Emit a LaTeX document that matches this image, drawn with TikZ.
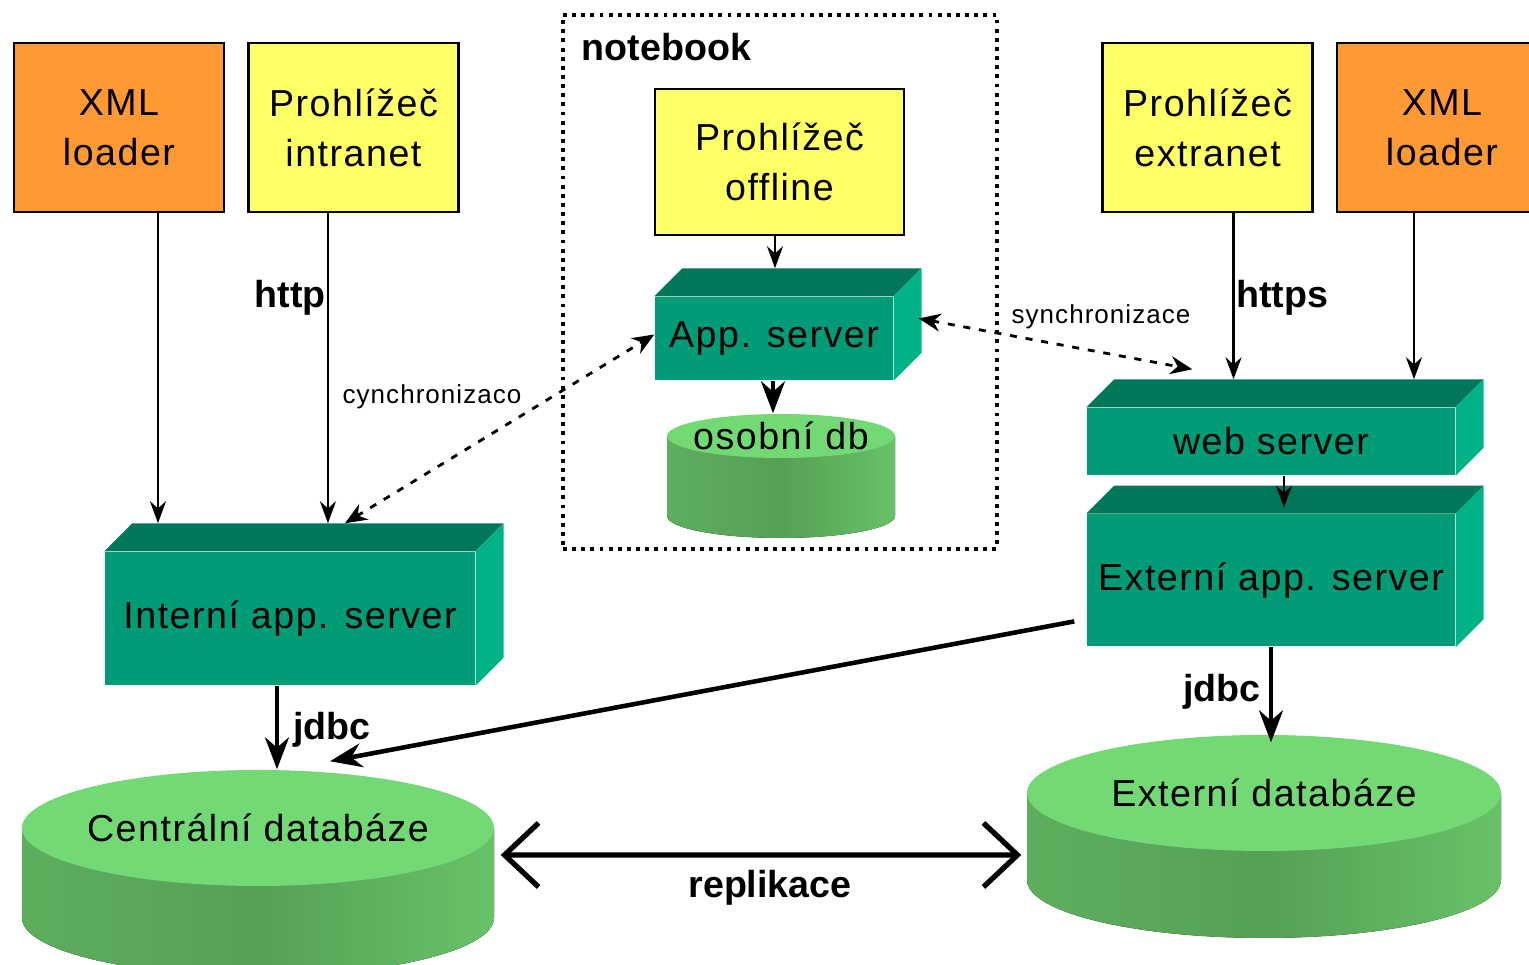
\documentclass[tikz,border=0pt]{standalone}
\usepackage{fontspec}
\setmainfont[LetterSpace=4,BoldFeatures={LetterSpace=0}]{Liberation Sans}
\usetikzlibrary{shapes,arrows,arrows.meta,positioning,calc}
\definecolor{ldOrange}{RGB}{255,153,51}
\definecolor{ldYellow}{RGB}{255,255,102}
\definecolor{srvTop}{RGB}{0,119,90}
\definecolor{srvFront}{RGB}{0,155,119}
\definecolor{srvSide}{RGB}{0,179,134}
\definecolor{dbTop}{RGB}{115,217,117}
\definecolor{dbLeft}{RGB}{94,174,94}
\definecolor{dbMid}{RGB}{86,160,86}
\definecolor{dbRight}{RGB}{104,194,104}

\begin{document}
\begin{tikzpicture}[
    font=\fontsize{10.7}{14.2}\selectfont,
    client/.style={rectangle, draw=black, line width=0.7pt, minimum width=2.1cm, minimum height=1.69cm, align=center, inner sep=0pt},
    loader/.style={client, fill=ldOrange},
    browser/.style={client, fill=ldYellow},
    srvbox/.style={rectangle, fill=srvFront, inner sep=0pt, minimum width=3.68cm, align=center},
    dbtop/.style={ellipse, fill=dbTop, inner sep=0pt},
    dbbody/.style={left color=dbLeft, right color=dbRight, middle color=dbMid},
    link/.style={-{Stealth[length=2.2mm,width=1.6mm]}, line width=0.6pt},
    dblink/.style={-{Stealth[length=3.2mm,width=2.4mm]}, line width=1.3pt},
    sync/.style={{Stealth[length=2.2mm,width=1.8mm]}-{Stealth[length=2.2mm,width=1.8mm]}, line width=0.8pt, dash pattern=on 2pt off 2.5pt},
    repl/.style={{Straight Barb[length=3.4mm,width=6.4mm,line width=1.5pt]}-{Straight Barb[length=3.4mm,width=6.4mm,line width=1.5pt]}, line width=1.5pt},
    proto/.style={font=\fontsize{10.7}{14.2}\selectfont\bfseries},
    synctext/.style={font=\fontsize{7.4}{9}\selectfont}
]
\useasboundingbox (0,0) rectangle (15.29,9.65);
\clip (0,0) rectangle (15.29,9.65);

% Clients
\node[loader] (xmlL) at (1.19,8.375) {XML\\loader};
\node[browser, right=0.22cm of xmlL] (intra) {Prohlížeč\\intranet};
\node[loader] (xmlR) at (14.42,8.375) {XML\\loader};
\node[browser, left=0.22cm of xmlR] (extra) {Prohlížeč\\extranet};

% Notebook
\node[draw, line width=1.1pt, dash pattern=on 1.1pt off 1.5pt, minimum width=4.34cm, minimum height=5.34cm, inner sep=0pt] (nb) at (7.80,6.83) {};
\node[proto, anchor=north west, inner sep=0pt] (nbtitle) at ([shift={(0.2,-0.2)}]nb.north west) {notebook};
\node[browser, minimum width=2.49cm, minimum height=1.46cm] (offline) at (7.795,8.03) {Prohlížeč\\offline};
\node[srvbox, minimum width=2.38cm, minimum height=0.83cm] (appsrv) at (7.74,6.265) {App. server};

% osobni db
\coordinate (odbc) at (7.81,5.29);
\fill[dbbody] ($(odbc)+(-1.14,0)$) -- ++(0,-0.80) arc[start angle=180, end angle=360, x radius=1.14cm, y radius=0.22cm] -- ++(0,0.80) -- cycle;
\node[dbtop, minimum width=2.28cm, minimum height=0.44cm, label=center:osobní db] (odb) at (odbc) {};

% Servers
\node[srvbox, minimum width=3.70cm, minimum height=1.33cm] (intsrv) at (2.90,3.465) {Interní app. server};
\node[srvbox, minimum height=0.67cm] (websrv) at (12.71,5.235) {web server};
\node[srvbox, minimum height=1.32cm, below=0.38cm of websrv] (extsrv) {Externí app. server};

\foreach \s in {appsrv,intsrv,websrv,extsrv} {
    \fill[srvTop] (\s.north west) -- ++(0.28,0.28) -- ($(\s.north east)+(0.28,0.28)$) -- (\s.north east) -- cycle;
    \fill[srvSide] (\s.north east) -- ++(0.28,0.28) -- ($(\s.south east)+(0.28,0.28)$) -- (\s.south east) -- cycle;
    \coordinate (\s-top) at ($(\s.north)+(0.28,0.28)$);
}

% Databases
\coordinate (cdbc) at (2.58,1.37);
\fill[dbbody] ($(cdbc)+(-2.36,0)$) -- ++(0,-0.90) arc[start angle=180, end angle=360, x radius=2.36cm, y radius=0.58cm] -- ++(0,0.90) -- cycle;
\node[dbtop, minimum width=4.72cm, minimum height=1.16cm, label=center:Centrální databáze] (cdb) at (cdbc) {};

\coordinate (edbc) at (12.64,1.72);
\fill[dbbody] ($(edbc)+(-2.37,0)$) -- ++(0,-0.87) arc[start angle=180, end angle=360, x radius=2.37cm, y radius=0.58cm] -- ++(0,0.87) -- cycle;
\node[dbtop, minimum width=4.74cm, minimum height=1.16cm, label=center:Externí databáze] (edb) at (edbc) {};

% Labels
\node[proto] (http) at (2.90,6.67) {http};
\node[proto] (https) at (12.82,6.67) {https};
\node[proto] (jdbcL) at (3.32,2.35) {jdbc};
\node[proto] (jdbcR) at (12.22,2.73) {jdbc};
\node[proto] (repltext) at (7.70,0.77) {replikace};
\node[synctext] (syncL) at (4.32,5.68) {cynchronizaco};
\node[synctext] (syncR) at (11.01,6.48) {synchronizace};

% Arrows
\draw[link] ([xshift=0.39cm]xmlL.south) -- ([xshift=0.39cm]xmlL.south |- intsrv-top);
\draw[link] ([xshift=-0.255cm]intra.south) -- ([xshift=-0.255cm]intra.south |- intsrv-top);
\draw[link] ([xshift=-0.045cm]offline.south) -- ([xshift=-0.045cm]offline.south |- appsrv-top);
\draw[dblink] ([xshift=-0.01cm]appsrv.south) -- ([xshift=-0.01cm]appsrv.south |- odb.north);
\draw[link] ([xshift=0.26cm]extra.south) -- ([xshift=0.26cm]extra.south |- websrv-top);
\draw[link] ([xshift=-0.28cm]xmlR.south) -- ([xshift=-0.28cm]xmlR.south |- websrv-top);
\draw[link] ([xshift=0.13cm]websrv.south) -- ([shift={(0.13,0.06)}]extsrv.north);
\draw[dblink] ([xshift=-0.13cm]intsrv.south) -- ([xshift=-0.13cm]intsrv.south |- cdb.north);
\draw[dblink] (extsrv.south) -- ([yshift=-0.08cm]extsrv.south |- edb.north);
\draw[dblink] ([shift={(-0.12,-0.41)}]extsrv.west) -- ([shift={(0.72,0.08)}]cdb.north);

% Synchronisation
\draw[sync] ([xshift=0.27cm]intsrv-top) -- ([yshift=0.04cm]appsrv.west);
\draw[sync] ([shift={(0.25,0.2)}]appsrv.east) -- ([shift={(1.06,0.38)}]websrv.north west);

% Replication
\draw[repl] ([shift={(0.06,-0.27)}]cdb.east) -- ([shift={(-0.05,-0.62)}]edb.west);

\end{tikzpicture}
\end{document}
